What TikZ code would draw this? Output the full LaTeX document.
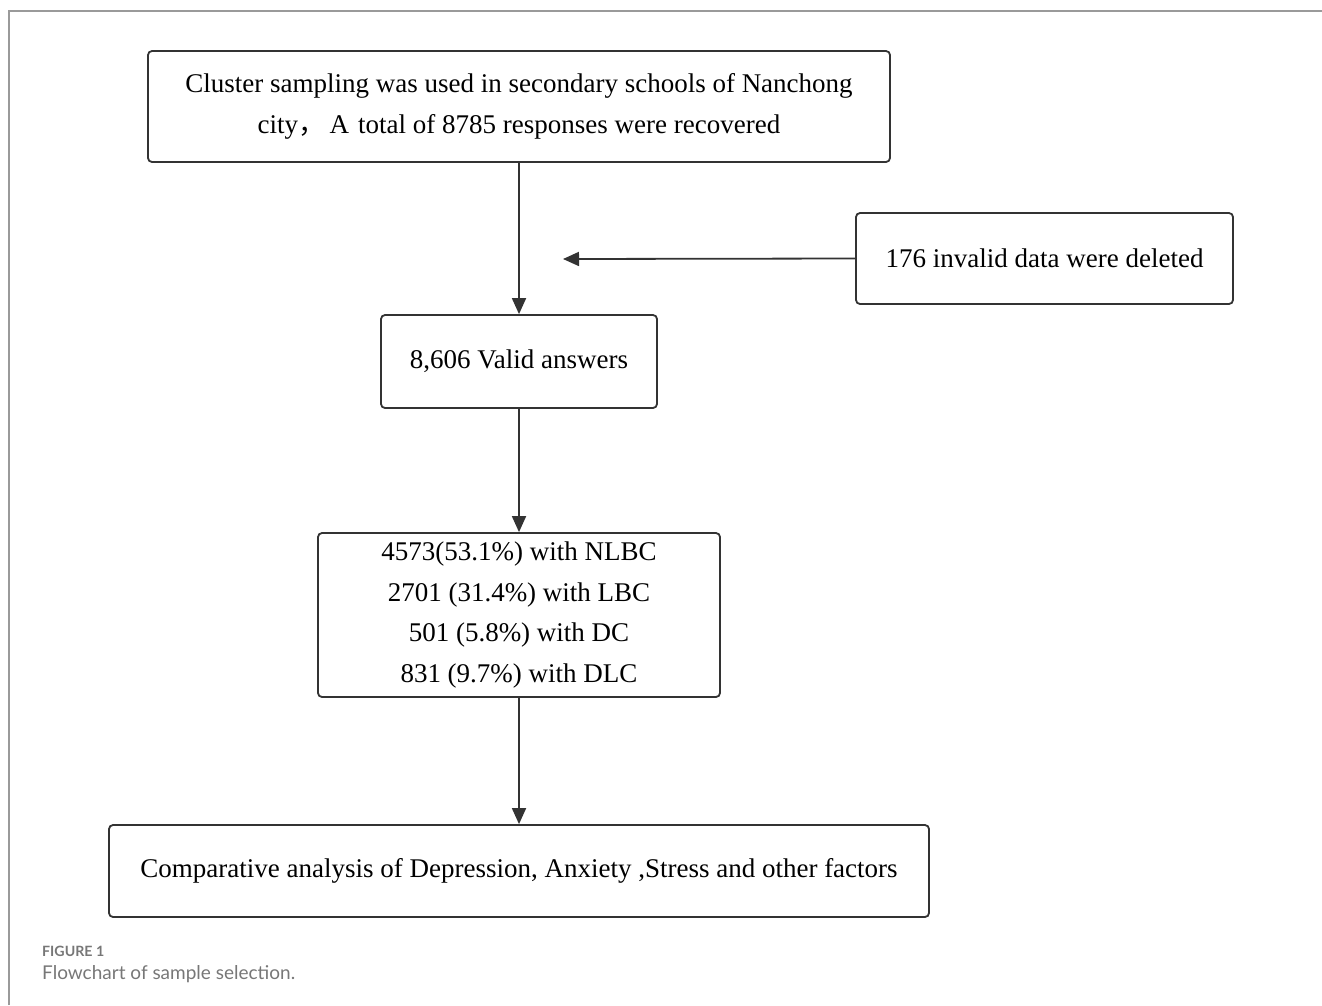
\documentclass[tikz,border=0pt]{standalone}
\usepackage{fontspec}
\setmainfont{Liberation Serif}
\newfontfamily\cjk{Noto Sans CJK SC}
\newfontfamily\capfont{Lato}
\usetikzlibrary{arrows.meta}
\definecolor{boxline}{HTML}{333333}
\definecolor{framegray}{HTML}{9A9A9A}
\definecolor{capgray}{HTML}{777777}
\begin{document}
\begin{tikzpicture}[x=1pt,y=-1pt,
  flowbox/.style={draw=boxline,line width=1.8pt,rounded corners=4pt,inner sep=0pt,align=center,font=\fontsize{27}{40.7}\selectfont},
  flowarrow/.style={draw=boxline,line width=1.8pt,-{Triangle[length=16pt,width=14pt]}}]
\useasboundingbox (0,0) rectangle (1322,1005);
\draw[framegray,line width=1.5pt] (9,1005) -- (9,11) -- (1322,11);
\node[flowbox,minimum width=742pt,minimum height=111pt] (a) at (519,106.5)
  {Cluster sampling was used in secondary schools of Nanchong\\city{\cjk ，}\,A\,\,total of 8785 responses were recovered};
\node[flowbox,minimum width=377pt,minimum height=91pt] (del) at (1044.5,258.5) {176 invalid data were deleted};
\node[flowbox,minimum width=276pt,minimum height=93pt] (b) at (519,361.5) {8,606 Valid answers};
\node[flowbox,minimum width=402pt,minimum height=164pt] (c) at (519,615)
  {4573(53.1\%) with NLBC\\2701 (31.4\%) with LBC\\501 (5.8\%) with DC\\831 (9.7\%) with DLC};
\node[flowbox,minimum width=820pt,minimum height=92pt] (d) at (519,871) {Comparative analysis of Depression, Anxiety ,Stress and other factors};
\coordinate (tip) at (563,259);
\draw[flowarrow] (a.south) -- (b.north);
\draw[flowarrow] (del.west) -- (tip);
\draw[flowarrow] (b.south) -- (c.north);
\draw[flowarrow] (c.south) -- (d.north);
\node[anchor=west,text=capgray,font=\capfont\bfseries\fontsize{14.2}{16}\selectfont,inner sep=0pt] (cap1) at (42,951) {FIGURE 1};
\node[anchor=west,text=capgray,font=\capfont\fontsize{19}{22}\selectfont,inner sep=0pt] (cap2) at (42,974) {Flowchart of sample selection.};
\end{tikzpicture}
\end{document}
